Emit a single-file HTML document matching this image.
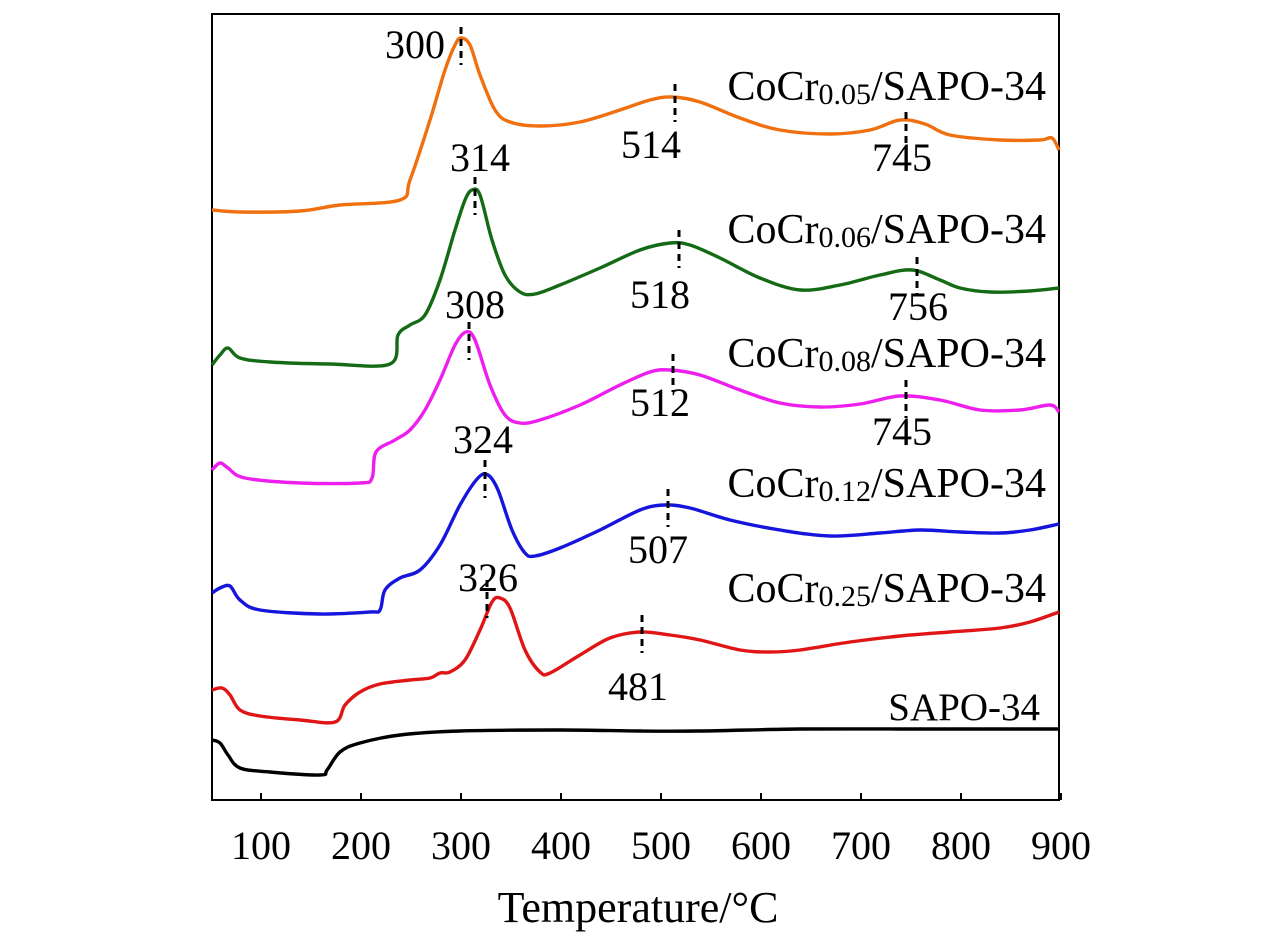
<!DOCTYPE html>
<html><head><meta charset="utf-8"><style>
body{margin:0;background:#fff}
svg{display:block;font-family:"Liberation Serif",serif}
</style></head><body>
<svg id="chart" width="1276" height="945" viewBox="0 0 1276 945" xmlns="http://www.w3.org/2000/svg">
<rect x="212" y="14" width="847" height="786" fill="none" stroke="#000" stroke-width="2"/>
<g id="ticks"></g>
<g id="series"></g>
<g id="markers"></g>
<text x="638" y="922" font-size="44" text-anchor="middle">Temperature/°C</text>
</svg>
<script>
const ticks=[100,200,300,400,500,600,700,800,900];
const seriesNames=["CoCr0.05/SAPO-34","CoCr0.06/SAPO-34","CoCr0.08/SAPO-34","CoCr0.12/SAPO-34","CoCr0.25/SAPO-34","SAPO-34"];
const seriesColors=["#f07010","#156b15","#ee1eee","#1515dd","#e01515","#000"];
// temperatures (°C) and intensities (a.u.)
const tOrange=[51,79,139,179,239,249,269,284,294,300,309,319,334,349,379,419,459,489,511,539,579,619,669,709,739,764,789,839,879,891,898];
const vOrange=[590,588,589,595,600,620,680,730,755,762,755,725,690,678,674,678,690,700,703,698,682,670,666,670,680,676,665,660,660,662,650];
const tGreen=[51,59,67,79,109,169,229,237,249,264,279,294,304,311,319,331,344,359,374,399,439,479,509,529,559,599,639,679,719,751,779,799,829,869,898];
const vGreen=[435,445,452,442,438,436,436,465,475,485,520,570,600,610,605,560,525,508,506,515,532,550,557,555,542,522,510,515,525,530,520,512,508,509,512];
const tMag=[51,59,67,84,139,199,211,215,234,249,264,279,294,305,314,329,344,359,379,419,459,489,509,539,579,619,659,699,739,779,819,859,889,898];
const vMag=[330,337,332,322,317,317,322,348,360,370,390,420,455,468,460,415,385,377,380,395,415,428,430,425,410,397,393,396,404,400,390,390,395,388];
const tBlue=[51,59,69,79,99,159,209,219,224,239,259,279,299,317,327,337,351,364,374,399,439,479,504,529,569,619,669,719,759,799,839,869,898];
const vBlue=[207,212,214,200,190,186,188,190,210,222,230,255,295,322,325,310,270,247,244,252,270,290,295,292,280,270,264,267,270,268,267,270,276];
const tRed=[51,61,69,79,99,139,174,184,199,219,249,269,279,289,304,319,331,339,349,364,379,389,419,449,479,509,539,579,609,639,689,739,789,839,869,898];
const vRed=[110,112,105,90,84,80,78,95,108,116,120,122,127,128,140,170,198,202,192,150,128,127,145,162,168,165,160,150,148,150,158,164,168,172,178,188];
const tBlack=[51,59,67,79,109,159,166,179,199,239,299,399,479,539,639,739,839,898];
const vBlack=[60,57,45,32,28,25,30,48,57,65,69,70,69,69,71,71,71,71];
const allT=[tOrange,tGreen,tMag,tBlue,tRed,tBlack];
const allV=[vOrange,vGreen,vMag,vBlue,vRed,vBlack];
const peakT=[300,514,745,314,518,756,308,512,745,324,507,326,481];
const peakV=[755,698,670,605,552,525,460,428,402,322,293,202,167];
const peakLbl=["300","514","745","314","518","756","308","512","745","324","507","326","481"];
const lblDx=[-46,-24,-4,5,-19,1,6,-13,-4,-2,-10,1,-4];
const lblDy=[13,56,41,-24,60,45,-22,44,47,-25,56,-7,67];
const legendY=[100,243,367,497,602,720];

const NS="http://www.w3.org/2000/svg";
const X=t=>211+(t-50);
const Y=v=>800-v;
function mk(tag,attrs,parent){const e=document.createElementNS(NS,tag);for(const k in attrs)e.setAttribute(k,attrs[k]);parent.appendChild(e);return e;}
function smooth(pts){
  let d='M'+pts[0][0]+','+pts[0][1];
  for(let i=0;i<pts.length-1;i++){
    const p0=pts[Math.max(0,i-1)],p1=pts[i],p2=pts[i+1],p3=pts[Math.min(pts.length-1,i+2)];
    const c1=[p1[0]+(p2[0]-p0[0])/6,p1[1]+(p2[1]-p0[1])/6];
    const c2=[p2[0]-(p3[0]-p1[0])/6,p2[1]-(p3[1]-p1[1])/6];
    d+=' C'+c1[0].toFixed(1)+','+c1[1].toFixed(1)+' '+c2[0].toFixed(1)+','+c2[1].toFixed(1)+' '+p2[0]+','+p2[1];
  }
  return d;
}
const gT=document.getElementById('ticks'),gS=document.getElementById('series'),gM=document.getElementById('markers');
ticks.forEach(t=>{
  const l=mk('line',{x1:X(t),x2:X(t),y1:800,y2:793,stroke:'#000','stroke-width':2},gT);
  
  
  const tx=mk('text',{x:X(t),y:859,'font-size':40,'text-anchor':'middle'},gT);
  tx.textContent=t;
  
  
});
allT.forEach((ts,i)=>{
  const pts=ts.map((t,j)=>[X(t),Y(allV[i][j])]);
  const p=mk('path',{d:smooth(pts),fill:'none',stroke:seriesColors[i],'stroke-width':3.4,'stroke-linejoin':'round'},gS);
  
  
  const tx=mk('text',{x:i==5?1040:1046,y:legendY[i],'font-size':i==5?39:42,'text-anchor':'end'},gS);
  
  
  const m=seriesNames[i].match(/^CoCr([\d.]+)(\/SAPO-34)$/);
  if(m){tx.innerHTML='CoCr<tspan font-size="30" dy="4">'+m[1]+'</tspan><tspan dy="-4">'+m[2]+'</tspan>';}else tx.textContent=seriesNames[i];
});
peakT.forEach((t,i)=>{
  const l=mk('line',{x1:X(t),x2:X(t),y1:Y(peakV[i])-18,y2:Y(peakV[i])+20,stroke:'#000','stroke-width':3,'stroke-dasharray':'7,5'},gM);
  
  
  const tx=mk('text',{x:X(t)+lblDx[i],y:Y(peakV[i])+lblDy[i],'font-size':40,'text-anchor':'middle'},gM);
  tx.textContent=peakLbl[i];
  
  
});
</script>
</body></html>
